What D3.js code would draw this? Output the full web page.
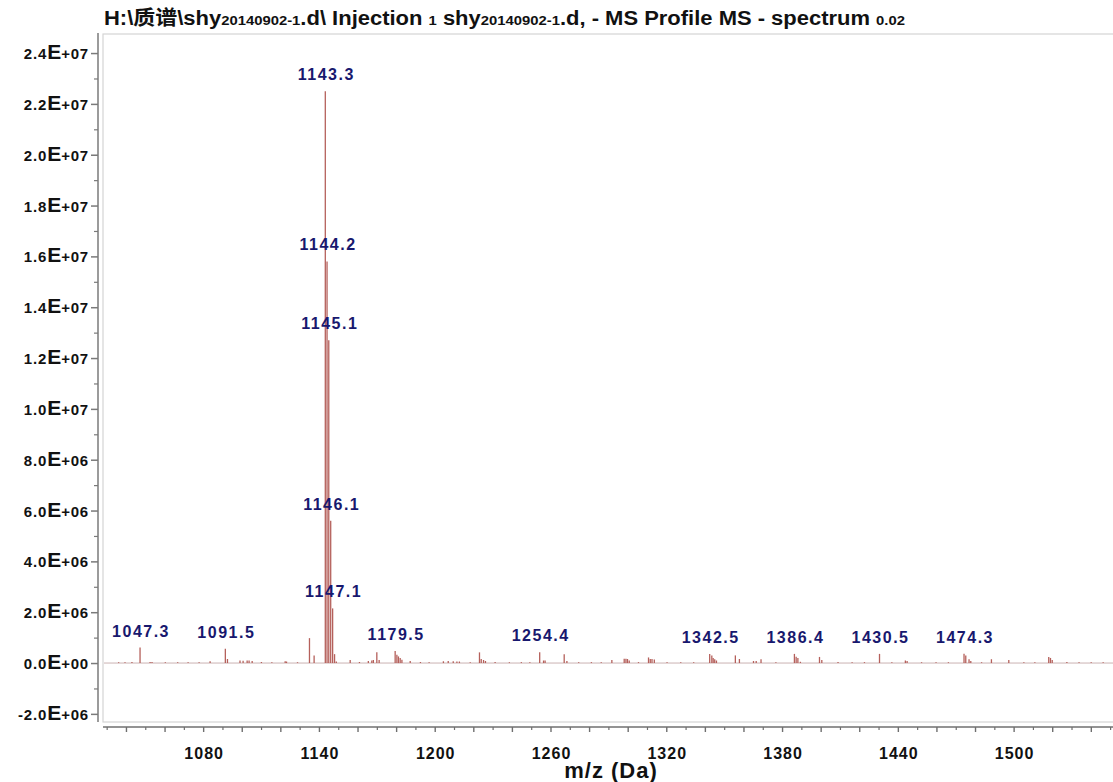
<!DOCTYPE html>
<html>
<head>
<meta charset="utf-8">
<script src="https://cdn.jsdelivr.net/npm/d3@7"></script>
<style>
  html, body { margin: 0; padding: 0; background: #fff; }
  svg { display: block; }
</style>
</head>
<body>
<svg id="chart" width="1113" height="782"></svg>
<script>
// Centroid peaks of the MS profile spectrum (m/z, intensity in counts)
const peakMz = [
  1036.2, 1039.5, 1043.1, 1047.3, 1052.5, 1053.5, 1060.4, 1066.8, 1072.2, 1077.9,
  1083.6, 1091.5, 1092.6, 1099.1, 1100.7, 1102.8, 1103.8, 1105.4, 1110.2, 1115.6,
  1122.5, 1123.2, 1128.9, 1135.1, 1137.5,
  1143.3, 1144.2, 1145.1, 1146.1, 1147.1, 1148.1, 1149.0,
  1156.2, 1161.0, 1165.6, 1167.4, 1168.2, 1170.0, 1171.2,
  1179.5, 1180.4, 1181.2, 1182.1, 1183.0, 1187.3, 1192.6, 1197.1,
  1204.5, 1207.0, 1209.6, 1211.5, 1212.8, 1218.4,
  1223.2, 1224.1, 1225.3, 1226.3, 1231.3, 1238.7, 1244.9, 1249.3,
  1254.4, 1256.4, 1257.2, 1267.1, 1268.5, 1274.6, 1281.2, 1286.3, 1291.8,
  1298.2, 1299.1, 1299.9, 1300.8, 1305.6, 1310.8, 1311.7, 1312.6, 1313.8,
  1320.4, 1327.5, 1334.2, 1342.5, 1343.6, 1344.3, 1345.1, 1346.0,
  1355.8, 1357.9, 1365.2, 1366.6, 1369.1, 1376.8,
  1386.4, 1387.3, 1388.2, 1389.5, 1399.4, 1400.6, 1409.0, 1416.3, 1422.7,
  1430.5, 1436.9, 1443.9, 1444.8, 1452.3, 1459.8, 1466.2,
  1474.3, 1475.2, 1476.9, 1477.8, 1483.4, 1488.5, 1497.5, 1505.3, 1511.0,
  1518.2, 1519.1, 1520.0, 1527.6, 1533.9, 1540.2, 1546.4
];
const peakIntensity = [
  3.0e4, 3.5e4, 4.0e4, 6.1e5, 4.0e4, 4.5e4, 3.0e4, 3.5e4, 3.0e4, 3.5e4,
  7.0e4, 5.6e5, 1.6e5, 1.0e5, 9.0e4, 1.0e5, 1.0e5, 8.0e4, 4.0e4, 3.5e4,
  7.0e4, 6.0e4, 3.0e4, 9.8e5, 3.0e5,
  2.25e7, 1.58e7, 1.27e7, 5.6e6, 2.15e6, 3.5e5, 6.0e4,
  1.2e5, 4.0e4, 8.0e4, 1.0e5, 1.2e5, 4.2e5, 1.2e5,
  4.7e5, 3.3e5, 2.6e5, 2.0e5, 1.3e5, 8.0e4, 4.0e4, 3.5e4,
  7.0e4, 8.0e4, 7.0e4, 6.0e4, 6.0e4, 3.5e4,
  4.2e5, 1.6e5, 1.2e5, 8.0e4, 4.0e4, 3.0e4, 3.5e4, 3.0e4,
  4.2e5, 1.0e5, 1.0e5, 3.5e5, 8.0e4, 3.0e4, 3.5e4, 3.0e4, 1.2e5,
  1.7e5, 1.7e5, 1.6e5, 1.0e5, 3.5e4, 2.2e5, 1.6e5, 1.6e5, 1.4e5,
  3.0e4, 3.5e4, 3.0e4, 3.6e5, 3.0e5, 2.0e5, 1.5e5, 1.0e5,
  3.0e5, 1.6e5, 8.0e4, 8.0e4, 1.5e5, 3.0e4,
  3.6e5, 2.5e5, 2.0e5, 5.0e4, 2.4e5, 1.2e5, 4.0e4, 3.0e4, 3.5e4,
  3.6e5, 3.0e4, 1.0e5, 8.0e4, 3.0e4, 3.5e4, 3.0e4,
  3.7e5, 3.0e5, 1.5e5, 8.0e4, 3.0e4, 1.5e5, 1.2e5, 3.5e4, 3.0e4,
  2.4e5, 2.0e5, 1.2e5, 4.0e4, 3.5e4, 3.0e4, 3.5e4
];
// Peaks annotated with their m/z
const labeledMz = [1047.3, 1091.5, 1143.3, 1144.2, 1145.1, 1146.1, 1147.1,
                   1179.5, 1254.4, 1342.5, 1386.4, 1430.5, 1474.3];

// Axis ticks
const xLabelTicks = [1080, 1140, 1200, 1260, 1320, 1380, 1440, 1500];
const xMajorTicks = d3.range(1040, 1551, 20);
const xMinorTicks = d3.range(1030, 1551, 20);
const yMajorTicks = d3.range(-2e6, 2.41e7, 2e6);
const yMinorTicks = d3.range(-1e6, 2.41e7, 2e6);

const titleParts = [
  ["H:\\质谱\\shy", "big"], ["20140902-1", "small"], [".d\\ Injection ", "big"],
  ["1", "small"], [" shy", "big"], ["20140902-1", "small"],
  [".d, - MS Profile MS - spectrum ", "big"], ["0.02", "small"]
];

const svg = d3.select("#chart");
const plot = { left: 103, right: 1113, top: 34, bottom: 722 };

const x = d3.scaleLinear().domain([1028.1, 1551.5]).range([plot.left, plot.right]);
const y = d3.scaleLinear().domain([-2.32e6, 2.475e7]).range([plot.bottom, plot.top]);

const font = "'Liberation Sans', Arial, 'Noto Sans CJK SC', sans-serif";

// Title
const title = svg.append("text")
  .attr("x", 104).attr("y", 25)
  .attr("font-family", font).attr("font-weight", "bold")
  .attr("fill", "#111")
  .attr("textLength", 801).attr("lengthAdjust", "spacingAndGlyphs");
titleParts.forEach(([t, size]) => {
  title.append("tspan")
    .attr("font-size", size === "big" ? 20 : 13.5)
    .text(t);
});

// Plot frame
svg.append("rect")
  .attr("x", plot.left).attr("y", plot.top)
  .attr("width", plot.right - plot.left + 2).attr("height", plot.bottom - plot.top)
  .attr("fill", "none").attr("stroke", "#d4d4d4").attr("stroke-width", 1.2);

// Zero baseline of the profile
svg.append("line")
  .attr("x1", plot.left + 1).attr("x2", plot.right)
  .attr("y1", y(0)).attr("y2", y(0))
  .attr("stroke", "#c4aaaa").attr("stroke-width", 0.9);

// Spectrum sticks
const peaks = peakMz.map((m, i) => ({ mz: m, intensity: peakIntensity[i] }));
svg.append("g").selectAll("line")
  .data(peaks)
  .join("line")
  .attr("x1", d => x(d.mz)).attr("x2", d => x(d.mz))
  .attr("y1", y(0)).attr("y2", d => y(d.intensity))
  .attr("stroke", "#b5605b").attr("stroke-width", 1.3);

// Peak annotations
const labelFor = peaks.filter(p => labeledMz.includes(p.mz));
svg.append("g").selectAll("text")
  .data(labelFor)
  .join("text")
  .attr("x", d => x(d.mz) + 1)
  .attr("y", d => y(d.intensity) - 11)
  .attr("text-anchor", "middle")
  .attr("font-family", font).attr("font-weight", "bold")
  .attr("font-size", 16).attr("letter-spacing", 1.5)
  .attr("fill", "#18186e")
  .text(d => d.mz.toFixed(1));

// Y axis
const yAxisX = 98;
svg.append("g")
  .attr("transform", `translate(${yAxisX},0)`)
  .call(d3.axisLeft(y).tickValues(yMajorTicks).tickSize(7).tickFormat(""))
  .call(g => g.select(".domain").attr("d", `M0,${plot.top - 1}V${plot.bottom}`))
  .call(g => g.selectAll("path,line").attr("stroke", "#7a7a7a").attr("stroke-width", 1.5));
svg.append("g")
  .attr("transform", `translate(${yAxisX},0)`)
  .call(d3.axisLeft(y).tickValues(yMinorTicks).tickSize(4).tickFormat(""))
  .call(g => g.select(".domain").remove())
  .call(g => g.selectAll("line").attr("stroke", "#7a7a7a").attr("stroke-width", 1.2));

function sciParts(v) {
  if (v === 0) return ["0.0", "00", "+"];
  const e = Math.floor(Math.log10(Math.abs(v)));
  const m = v / Math.pow(10, e);
  return [m.toFixed(1), String(Math.abs(e)).padStart(2, "0"), e < 0 ? "-" : "+"];
}
const yLabels = svg.append("g")
  .attr("font-family", font).attr("font-weight", "bold").attr("fill", "#111");
yMajorTicks.forEach(v => {
  const [mant, exp, sign] = sciParts(v);
  const t = yLabels.append("text")
    .attr("x", 89).attr("y", y(v) + 6)
    .attr("text-anchor", "end");
  t.append("tspan").attr("font-size", 15).attr("letter-spacing", 0.8).text(mant);
  t.append("tspan").attr("font-size", 21).text("E");
  t.append("tspan").attr("font-size", 15).attr("letter-spacing", 0.8).text(sign + exp);
});

// X axis
const xAxisY = 727;
svg.append("g")
  .attr("transform", `translate(0,${xAxisY})`)
  .call(d3.axisBottom(x).tickValues(xMajorTicks).tickSize(5).tickFormat(""))
  .call(g => g.select(".domain").attr("d", `M${plot.left},0H${plot.right}`))
  .call(g => g.selectAll("path,line").attr("stroke", "#6f6f6f").attr("stroke-width", 1.4));
svg.append("g")
  .attr("transform", `translate(0,${xAxisY})`)
  .call(d3.axisBottom(x).tickValues(xMinorTicks).tickSize(3).tickFormat(""))
  .call(g => g.select(".domain").remove())
  .call(g => g.selectAll("line").attr("stroke", "#6f6f6f").attr("stroke-width", 1.2));

svg.append("g").selectAll("text")
  .data(xLabelTicks)
  .join("text")
  .attr("x", d => x(d) + 1).attr("y", 759)
  .attr("text-anchor", "middle")
  .attr("font-family", font).attr("font-weight", "bold")
  .attr("font-size", 16).attr("letter-spacing", 1)
  .attr("fill", "#111")
  .text(d => d);

svg.append("text")
  .attr("x", 611).attr("y", 778)
  .attr("text-anchor", "middle")
  .attr("font-family", font).attr("font-weight", "bold")
  .attr("font-size", 22).attr("letter-spacing", 1)
  .attr("fill", "#111")
  .text("m/z (Da)");
</script>
</body>
</html>
